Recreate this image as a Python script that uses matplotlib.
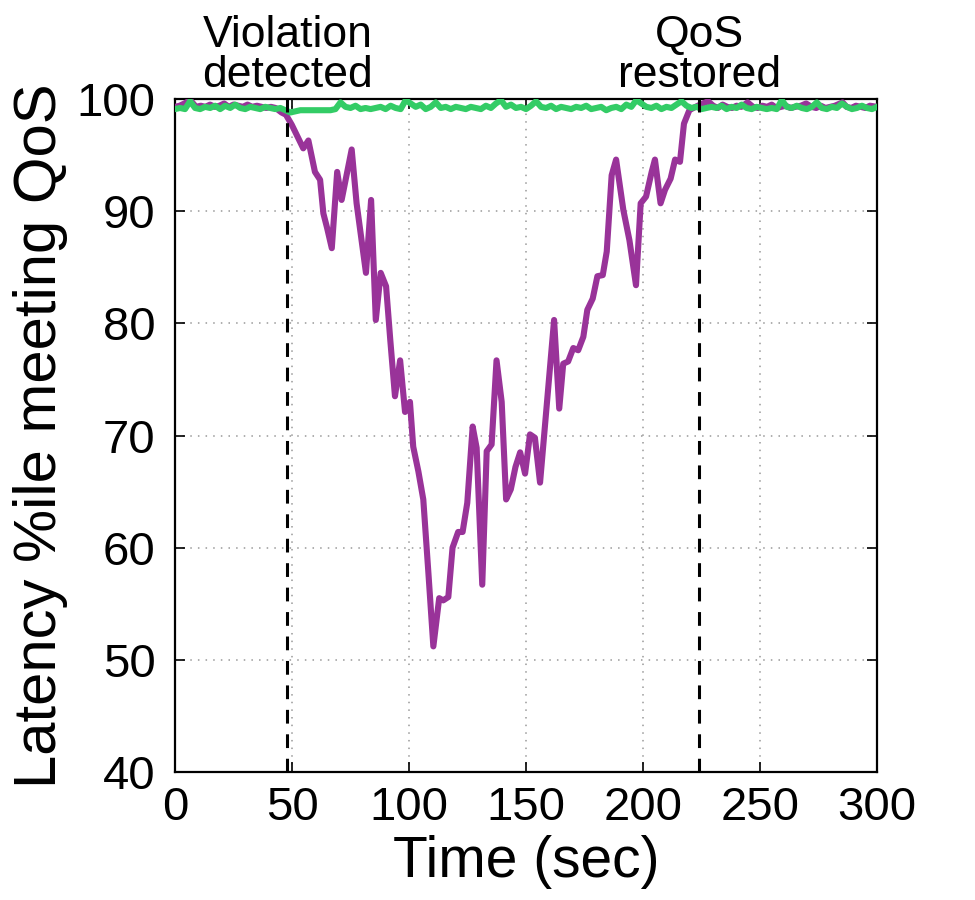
import numpy as np
import matplotlib
matplotlib.use("Agg")
import matplotlib.pyplot as plt

plt.rcParams['font.family'] = ['Liberation Sans', 'DejaVu Sans']

# Purple series (time, value)
purple_t = [0, 2, 4, 6.5, 9, 11, 13, 15, 17, 19, 21, 23, 25, 27, 29, 31, 33, 35, 37, 39,
            41, 43, 45.5, 47.4, 49.9, 52, 54.8, 57, 59.8, 62, 63.4, 65, 67, 69.3, 71.2,
            73.3, 75.5, 77.6, 79.6, 81.6, 83.8, 85.8, 87.9, 90.2, 92, 94, 96.2, 98.3,
            100.4, 101.8, 104, 106.1, 108.3, 110.4, 112.9, 114.6, 116.8, 118.6, 121,
            122.9, 124.9, 127.2, 128.9, 131.3, 133.2, 135.3, 137.4, 139.6, 141.5, 143.5,
            145.5, 147.5, 149.6, 151.7, 153.8, 156, 158, 160, 162, 164.2, 165.9, 168,
            170.2, 172.3, 174.5, 176.2, 178.5, 180.5, 182.8, 184.5, 186.6, 188.5, 191.6,
            194.2, 197, 199, 201.3, 203.7, 205.1, 207.5, 209.4, 211.8, 213.7, 215.8,
            217.5, 219.8, 221.5, 224.4, 227.8, 230, 232, 234, 236, 238, 240, 242, 244.7,
            247, 249, 251, 253, 255, 257, 259, 261, 263, 265, 267.5, 269.7, 272, 274,
            276, 278, 280, 282, 285.3, 287, 289, 291, 293, 295, 297, 300]
purple_v = [99.3, 99.4, 99.6, 99.9, 99.3, 99.4, 99.3, 99.5, 99.3, 99.4, 99.6, 99.3, 99.5,
            99.4, 99.3, 99.5, 99.3, 99.4, 99.3, 99.2, 99.3, 99.2, 98.8, 98.6, 97.7, 96.8,
            95.6, 96.3, 93.5, 92.8, 89.8, 88.5, 86.7, 93.5, 91.0, 93.2, 95.5, 90.7, 87.6,
            84.5, 91.0, 80.3, 84.5, 83.3, 78.5, 73.5, 76.7, 72.1, 73.0, 69.0, 66.8, 64.3,
            57.7, 51.2, 55.5, 55.3, 55.6, 60.0, 61.4, 61.4, 64.0, 70.8, 68.9, 56.7, 68.6,
            69.2, 76.7, 73.0, 64.3, 65.2, 67.2, 68.5, 66.6, 70.1, 69.8, 65.8, 70.6, 75.5,
            80.3, 72.4, 76.4, 76.6, 77.8, 77.6, 78.8, 81.2, 82.2, 84.2, 84.3, 86.4, 93.2,
            94.6, 90.1, 87.4, 83.4, 90.7, 91.3, 93.5, 94.6, 90.7, 91.9, 92.9, 94.6, 94.4,
            97.8, 99.0, 99.2, 99.5, 99.8, 99.4, 99.2, 99.5, 99.3, 99.2, 99.4, 99.3, 99.7,
            99.3, 99.2, 99.4, 99.3, 99.5, 99.2, 99.3, 99.4, 99.2, 99.3, 99.4, 99.6, 99.3,
            99.2, 99.4, 99.2, 99.3, 99.4, 99.7, 99.3, 99.2, 99.4, 99.3, 99.2, 99.4,
            99.3]

# Green series values (evenly sampled over 0-300 s)
green_v = [99.1, 99.2, 99.1, 99.8, 99.2, 99.1, 99.3, 99.2, 99.4, 99.1,
           99.4, 99.2, 99.5, 99.2, 99.1, 99.3, 99.2, 99.1, 99.3, 99.2,
           99.1, 99.2, 99.0, 98.8, 98.9, 99.0, 99.0, 99.0, 99.0, 99.0,
           99.0, 99.0, 99.1, 99.7, 99.3, 99.2, 99.4, 99.1, 99.2, 99.1,
           99.2, 99.3, 99.1, 99.4, 99.2, 99.1, 99.9, 99.6, 99.3, 99.5,
           99.1, 99.3, 99.7, 99.2, 99.3, 99.1, 99.3, 99.2, 99.1, 99.3,
           99.2, 99.1, 99.4, 99.2, 99.6, 99.9, 99.3, 99.5, 99.2, 99.3,
           99.1, 99.4, 99.8, 99.3, 99.2, 99.4, 99.1, 99.3, 99.2, 99.1,
           99.3, 99.2, 99.4, 99.1, 99.2, 99.3, 99.0, 99.2, 99.3, 99.1,
           99.5, 99.3, 99.9, 99.6, 99.3, 99.2, 99.4, 99.1, 99.3, 99.2,
           99.5, 99.8, 99.4, 99.2, 99.3, 99.1, 99.2, 99.3, 99.2, 99.4,
           99.1, 99.3, 99.2, 99.5, 99.2, 99.1, 99.3, 99.2, 99.1, 99.2,
           99.1, 99.9, 99.3, 99.2, 99.4, 99.2, 99.1, 99.3, 99.7, 99.2,
           99.1, 99.3, 99.2, 99.6, 99.3, 99.1, 99.2, 99.4, 99.2, 99.1, 99.3]
green_t = np.linspace(0, 300, len(green_v))

event_times = [48, 224]
event_labels = ["Violation\ndetected", "QoS\nrestored"]

x_ticks = [0, 50, 100, 150, 200, 250, 300]
y_ticks = [40, 50, 60, 70, 80, 90, 100]

fig = plt.figure(figsize=(9.75, 9.0), dpi=100)
ax = fig.add_axes([0.1795, 0.1422, 0.72, 0.7478])

ax.plot(purple_t, purple_v, color='#993399', lw=4.4, zorder=3)
ax.plot(green_t, green_v, color='#33cc66', lw=4.4, zorder=4)

for t, lab in zip(event_times, event_labels):
    ax.axvline(t, color='black', lw=2.2, ls=(0, (4.5, 3.5)), zorder=5)
    ax.text(t, 100.3, lab, ha='center', va='bottom', fontsize=32, linespacing=0.95,
            transform=ax.transData, clip_on=False)

ax.set_xlim(0, 300)
ax.set_ylim(40, 100)
ax.set_xticks(x_ticks)
ax.set_yticks(y_ticks)
ax.tick_params(axis='both', which='major', labelsize=34, direction='in', length=7,
               width=1.2, top=True, right=True)
ax.tick_params(axis='x', pad=10)
ax.tick_params(axis='y', pad=14)
ax.grid(True, color='#999999', ls=(0, (1, 4)), lw=1.1)
for s in ax.spines.values():
    s.set_linewidth(1.6)

ax.set_xlabel("Time (sec)", fontsize=41, labelpad=4)
ax.set_ylabel("Latency %ile meeting QoS", fontsize=43, labelpad=6)

fig.savefig("out.png", dpi=100)
